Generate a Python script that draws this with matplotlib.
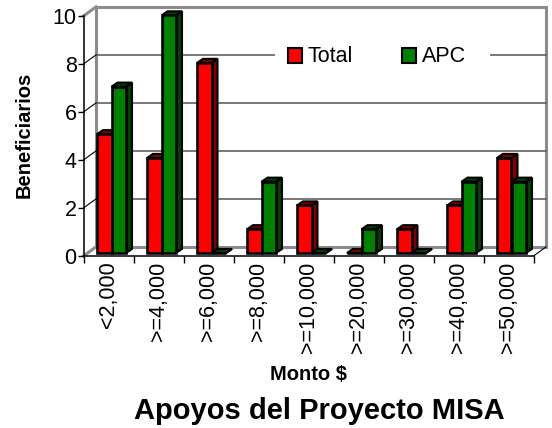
import matplotlib
matplotlib.use('Agg')
import matplotlib.pyplot as plt
from matplotlib.patches import Polygon, Rectangle
import numpy as np

plt.rcParams['font.family'] = ['Liberation Sans', 'DejaVu Sans']

# Values
categories = ['<2,000', '>=4,000', '>=6,000', '>=8,000', '>=10,000',
              '>=20,000', '>=30,000', '>=40,000', '>=50,000']
total = [5, 4, 8, 1, 2, 0, 1, 2, 4]
apc = [7, 10, 0, 3, 0, 1, 0, 3, 3]
y_ticks = [0, 2, 4, 6, 8, 10]

W, H = 552, 428
fig = plt.figure(figsize=(W / 100, H / 100), dpi=100, facecolor='white')
ax = fig.add_axes([83.5 / W, (H - 256) / H, 450 / W, 240 / H])
ax.set_xlim(0, len(categories))
ax.set_ylim(0, 10)
ax.patch.set_alpha(0)

# fake 3d depth in data units
wall_dx, wall_dy = 0.25, 0.38
bar_dx, bar_dy = 0.12, 0.17
bar_w = 0.29
bar_off = 0.27
bar_base = 0.125
bar_scale = 0.99
n = len(categories)
gray = '#8c8c8c'

# back wall
ax.plot([wall_dx, wall_dx, n + wall_dx, n + wall_dx, wall_dx],
        [wall_dy, 10 + wall_dy, 10 + wall_dy, wall_dy, wall_dy],
        color=gray, lw=2.2, clip_on=False, zorder=1, solid_joinstyle='miter')
ax.plot([0, wall_dx], [0, wall_dy], color=gray, lw=2.2, clip_on=False, zorder=1)
ax.plot([0, wall_dx], [10, 10 + wall_dy], color=gray, lw=2.2, clip_on=False, zorder=1)
for v in y_ticks[1:-1]:
    ax.plot([wall_dx, n + wall_dx], [v + wall_dy, v + wall_dy], color='#555555', lw=1.1,
            clip_on=False, zorder=1)
    ax.plot([0, wall_dx], [v, v + wall_dy], color='black', lw=0.8, clip_on=False, zorder=1)
ax.plot([n, n + wall_dx], [0, wall_dy], color='black', lw=0.8, clip_on=False, zorder=1)


def draw_bars(values, offset, front, side, z):
    xs = np.arange(n) + offset
    tops = [bar_base + v * bar_scale for v in values]
    ax.bar(xs, [t - bar_base for t in tops], bar_w, bottom=bar_base, align='edge',
           color=front, edgecolor='black', lw=1.9, zorder=z + 1)
    for x, t in zip(xs, tops):
        ax.add_patch(Polygon([(x + bar_w, bar_base), (x + bar_w + bar_dx, bar_base + bar_dy),
                              (x + bar_w + bar_dx, t + bar_dy), (x + bar_w, t)],
                             fc=side, ec='black', lw=1.5, zorder=z, clip_on=False))
        ax.add_patch(Polygon([(x, t), (x + bar_dx, t + bar_dy),
                              (x + bar_w + bar_dx, t + bar_dy), (x + bar_w, t)],
                             fc=side, ec='black', lw=1.5, zorder=z, clip_on=False))


draw_bars(total, bar_off, '#ff0000', '#800000', 3)
draw_bars(apc, bar_off + bar_w, '#008000', '#004000', 5)

# legend sits on top of the wall grid
ax.add_patch(Rectangle((3.83, 7.6), 4.3, 1.1, fc='white', ec='none', zorder=8))
ax.add_patch(Rectangle((4.09, 8.06), 0.27, 0.62, fc='#ff0000', ec='black', lw=1.5, zorder=9))
ax.add_patch(Rectangle((6.37, 8.06), 0.27, 0.62, fc='#008000', ec='black', lw=1.5, zorder=9))
ax.text(4.48, 8.32, 'Total', fontsize=15.5, va='center', ha='left', zorder=9)
ax.text(6.77, 8.32, 'APC', fontsize=15.5, va='center', ha='left', zorder=9)

for s in ['top', 'right']:
    ax.spines[s].set_visible(False)
for s in ['left', 'bottom']:
    ax.spines[s].set_linewidth(1.1)
    ax.spines[s].set_color('black')
    ax.spines[s].set_zorder(2)

ax.set_yticks(y_ticks)
ax.tick_params(axis='y', labelsize=15.5, length=4, width=1, pad=1)
ax.set_xticks(np.arange(n + 1))
ax.set_xticklabels([])
ax.tick_params(axis='x', which='major', length=5, width=1)
ax.set_xticks(np.arange(n) + 0.5, minor=True)
ax.set_xticklabels(categories, minor=True, rotation=90, fontsize=15.5)
ax.tick_params(axis='x', which='minor', length=0, pad=4)

fig.text(24 / W, 1 - 135 / H, 'Beneficiarios', rotation=90, fontsize=14.5, fontweight='bold',
         ha='center', va='center')
fig.text(308 / W, 1 - 374.5 / H, 'Monto $', fontsize=14.5, fontweight='bold', ha='center', va='center')
fig.text(319 / W, 1 - 411 / H, 'Apoyos del Proyecto MISA', fontsize=21, fontweight='bold',
         ha='center', va='center')

fig.savefig('out.png', dpi=100)
